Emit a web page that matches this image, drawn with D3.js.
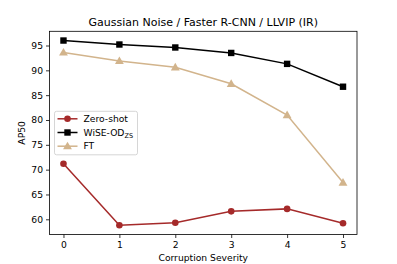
<!DOCTYPE html>
<html>
<head>
<meta charset="utf-8">
<script src="https://cdn.jsdelivr.net/npm/d3@7"></script>
<style>
  body { margin: 0; background: #fff; }
  text { font-family: "DejaVu Sans", sans-serif; }
</style>
</head>
<body>
<svg id="chart" width="397" height="264"></svg>
<script>
let severities = [0, 1, 2, 3, 4, 5];
let zeroShot = [71.2, 58.8, 59.3, 61.6, 62.1, 59.2];
let wiseOD = [96.0, 95.2, 94.6, 93.5, 91.3, 86.7];
let ft = [93.6, 91.9, 90.6, 87.3, 81.0, 67.4];
let yTicks = [60, 65, 70, 75, 80, 85, 90, 95];

let svg = d3.select("#chart");
let margin = { top: 31.3, right: 40, bottom: 29.5, left: 49.5 };
let width = 397 - margin.left - margin.right;
let height = 264 - margin.top - margin.bottom;
let fontSize = "9.2px";

let g = svg
  .append("g")
  .attr("transform", "translate(" + margin.left + "," + margin.top + ")");

// matplotlib-ish 5% margins
let x = d3.scaleLinear().domain([-0.25, 5.25]).range([0, width]);
let y = d3.scaleLinear().domain([56.94, 97.86]).range([height, 0]);

let series = [
  { name: "Zero-shot", values: zeroShot, color: "#a52a2a", marker: "circle" },
  { name: "WiSE-OD", sub: "ZS", values: wiseOD, color: "#000000", marker: "square" },
  { name: "FT", values: ft, color: "#d2b48c", marker: "triangle" },
];

function drawMarker(sel, s, cx, cy) {
  if (s.marker === "circle") {
    sel.append("circle").attr("cx", cx).attr("cy", cy).attr("r", 3.3).attr("fill", s.color);
  } else if (s.marker === "square") {
    sel.append("rect").attr("x", cx - 3.2).attr("y", cy - 3.2)
      .attr("width", 6.4).attr("height", 6.4).attr("fill", s.color);
  } else {
    sel.append("path")
      .attr("d", d3.symbol().type(d3.symbolTriangle).size(34)())
      .attr("transform", "translate(" + cx + "," + (cy + 0.6) + ")")
      .attr("fill", s.color);
  }
}

let line = d3.line().x((d, i) => x(severities[i])).y((d) => y(d));

series.forEach(function (s) {
  g.append("path")
    .datum(s.values)
    .attr("fill", "none")
    .attr("stroke", s.color)
    .attr("stroke-width", 1.5)
    .attr("d", line);
  s.values.forEach(function (v, i) {
    drawMarker(g, s, x(severities[i]), y(v));
  });
});

// Axes
let xAxis = g.append("g")
  .attr("transform", "translate(0," + height + ")")
  .call(d3.axisBottom(x).tickValues(severities).tickFormat(d3.format("d")).tickSize(3.5).tickPadding(3));
let yAxis = g.append("g")
  .call(d3.axisLeft(y).tickValues(yTicks).tickSize(3.5).tickPadding(3));

[xAxis, yAxis].forEach(function (a) {
  a.select(".domain").remove();
  a.selectAll("text").style("font-size", fontSize).attr("fill", "#000");
  a.selectAll("line").attr("stroke", "#000").attr("stroke-width", 0.8);
});

g.append("rect")
  .attr("width", width)
  .attr("height", height)
  .attr("fill", "none")
  .attr("stroke", "#000")
  .attr("stroke-width", 0.8);

// Title
svg.append("text")
  .attr("x", margin.left + width / 2)
  .attr("y", 25.5)
  .style("text-anchor", "middle")
  .style("font-size", "11px")
  .text("Gaussian Noise / Faster R-CNN / LLVIP (IR)");

// Axis labels
svg.append("text")
  .attr("x", margin.left + width / 2)
  .attr("y", 261)
  .style("text-anchor", "middle")
  .style("font-size", fontSize)
  .text("Corruption Severity");

svg.append("text")
  .attr("transform", "rotate(-90)")
  .attr("x", -(margin.top + height / 2))
  .attr("y", 25)
  .style("text-anchor", "middle")
  .style("font-size", fontSize)
  .text("AP50");

// Legend
let legend = g.append("g").attr("transform", "translate(5, 80)");
legend.append("rect")
  .attr("width", 83)
  .attr("height", 43.5)
  .attr("rx", 2)
  .attr("fill", "#fff")
  .attr("fill-opacity", 0.8)
  .attr("stroke", "#ccc")
  .attr("stroke-width", 0.8);

series.forEach(function (s, i) {
  let ly = 7.5 + i * 13.7;
  let item = legend.append("g");
  item.append("line")
    .attr("x1", 3).attr("x2", 23)
    .attr("y1", ly).attr("y2", ly)
    .attr("stroke", s.color).attr("stroke-width", 1.5);
  drawMarker(item, s, 13, ly);
  let t = item.append("text")
    .attr("x", 29)
    .attr("y", ly + 3.3)
    .style("font-size", fontSize)
    .text(s.name);
  if (s.sub) {
    t.append("tspan").attr("dy", 2.2).style("font-size", "6.5px").text(s.sub);
  }
});
</script>
</body>
</html>
